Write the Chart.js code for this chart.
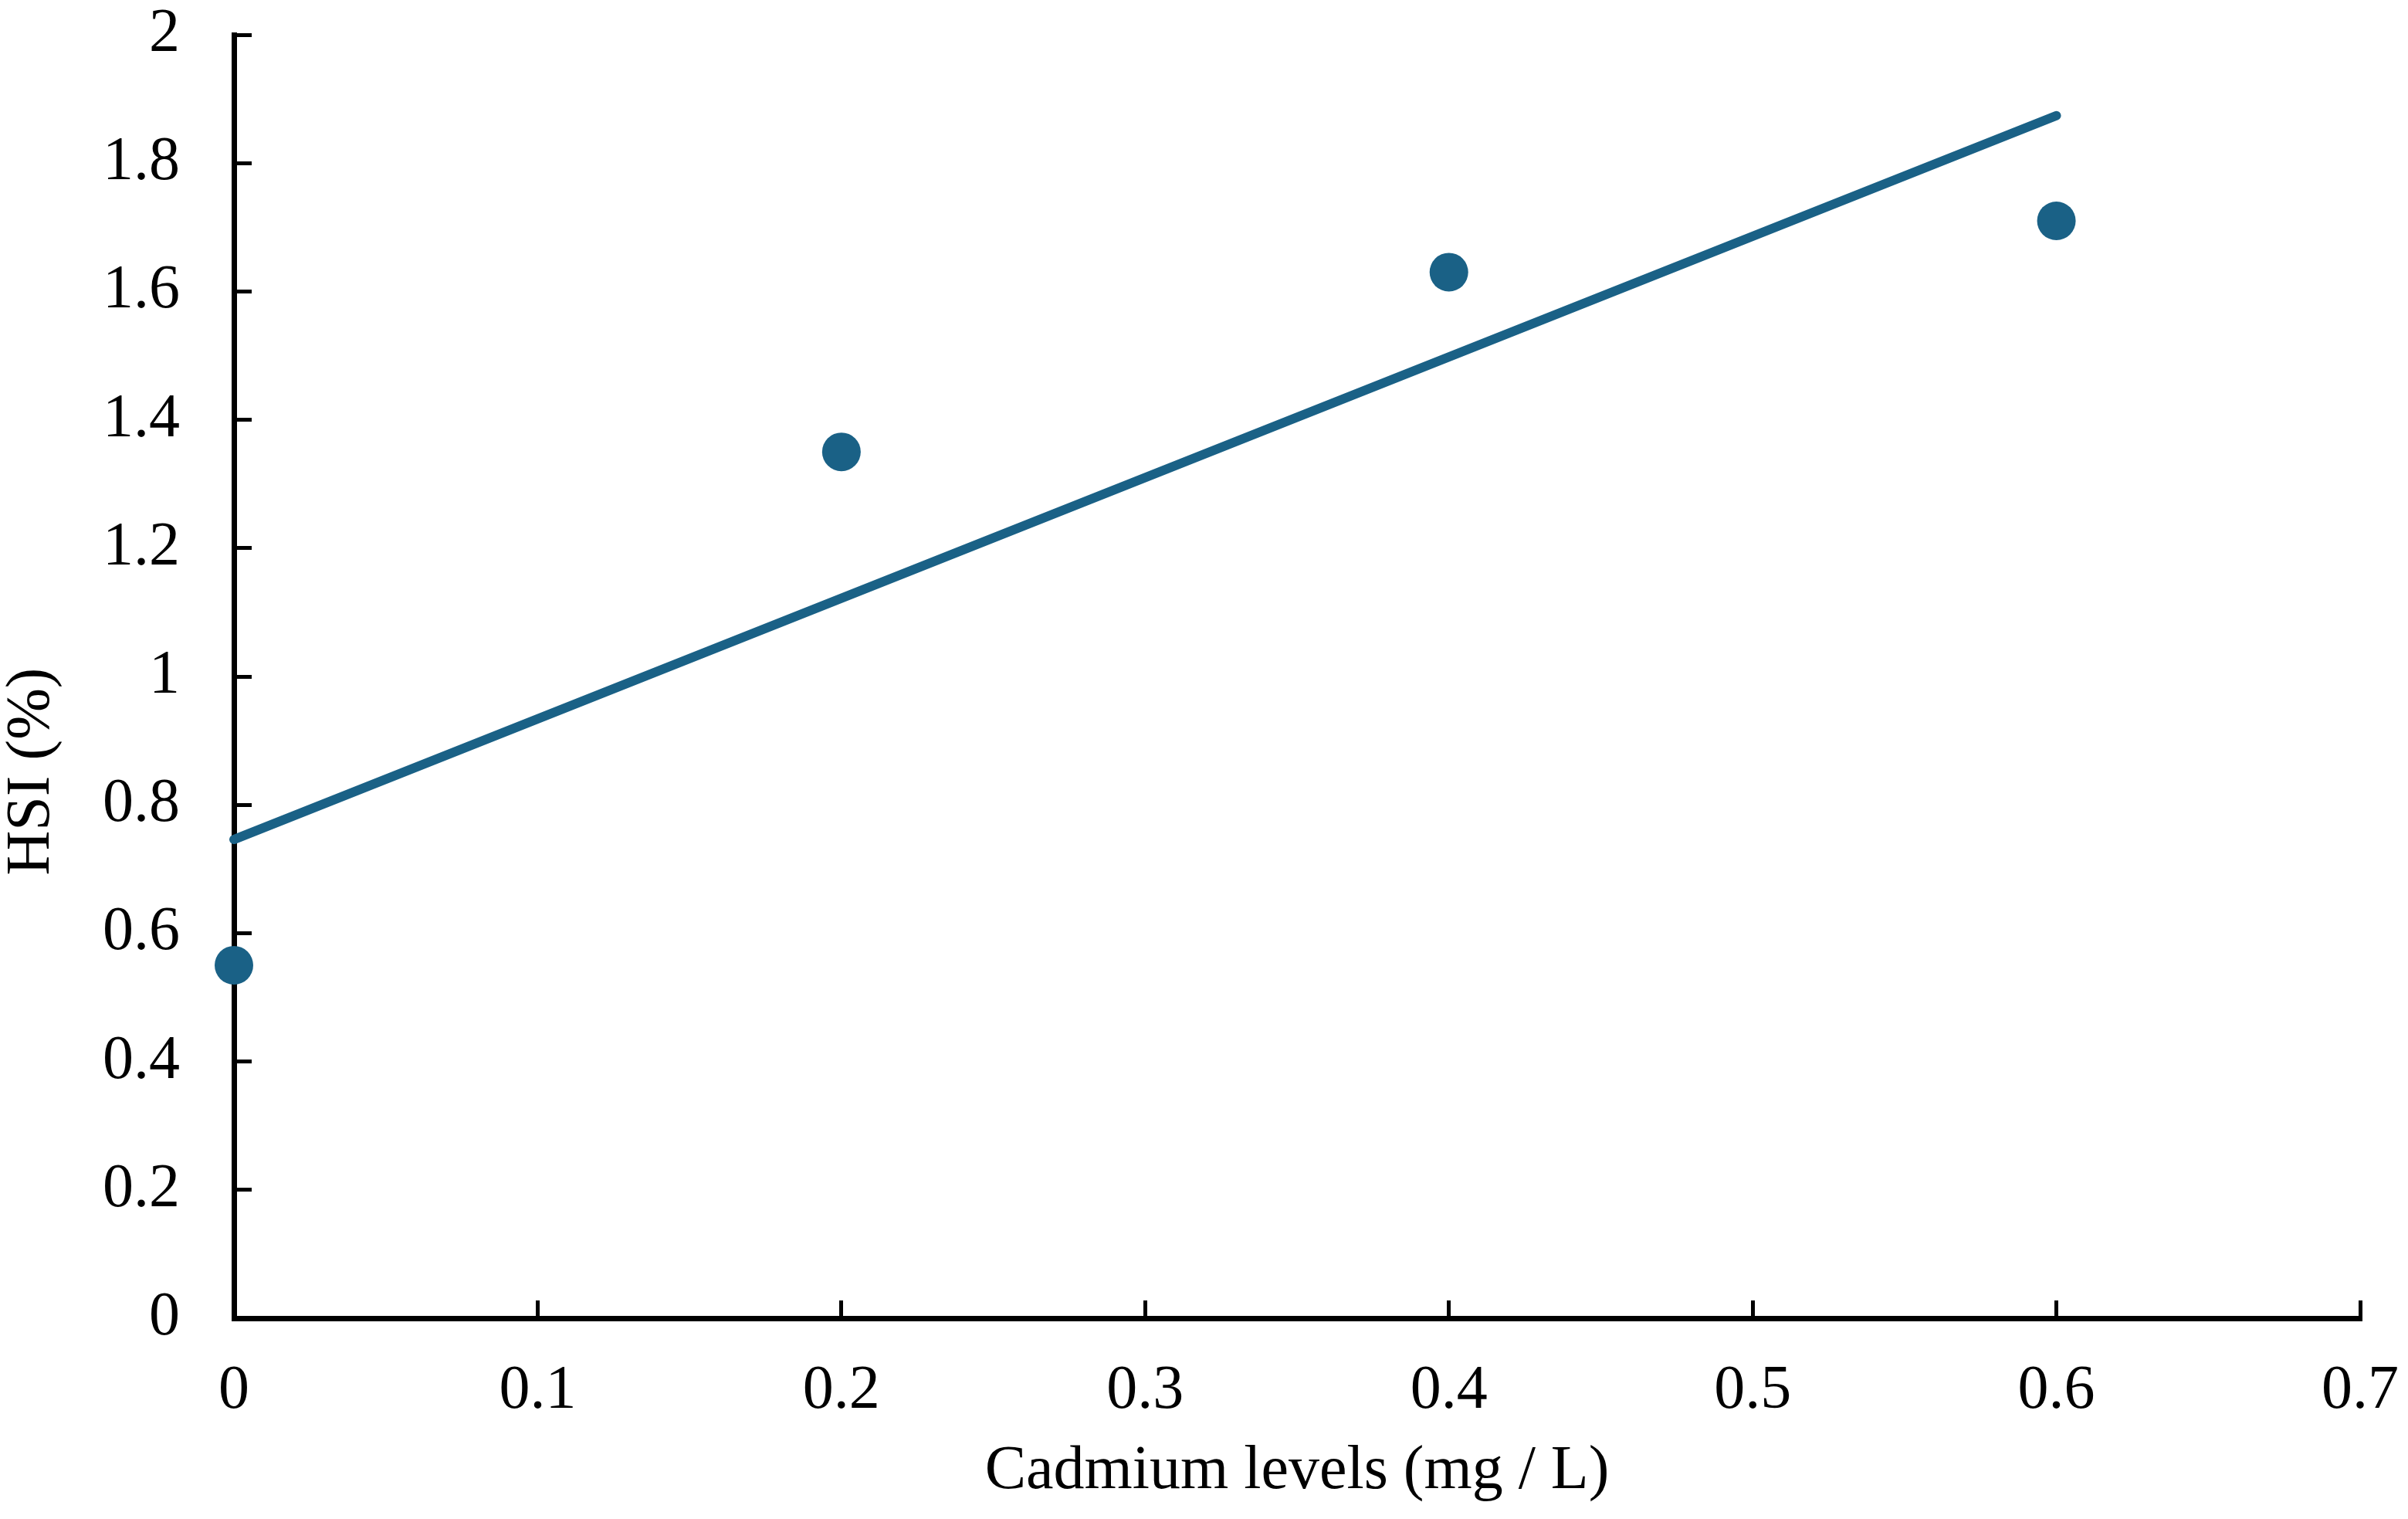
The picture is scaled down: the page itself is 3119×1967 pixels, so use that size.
<!DOCTYPE html>
<html>
<head>
<meta charset="utf-8">
<script src="https://cdn.jsdelivr.net/npm/chart.js@4"></script>
<style>
html,body{margin:0;padding:0;background:#fff;}
canvas{display:block;}
</style>
</head>
<body>
<canvas id="c" width="3119" height="1967"></canvas>
<script>
// Data
const cadmiumLevels = [0, 0.2, 0.4, 0.6];
const hsiValues = [0.55, 1.35, 1.63, 1.71];
const trendX = [0, 0.6];
const trendY = [0.746, 1.874];
const xTickValues = [0, 0.1, 0.2, 0.3, 0.4, 0.5, 0.6, 0.7];
const yTickValues = [0, 0.2, 0.4, 0.6, 0.8, 1, 1.2, 1.4, 1.6, 1.8, 2];
const xTitle = 'Cadmium levels (mg / L)';
const yTitle = 'HSI (%)';

const color = '#1a6186';
const font = 'Liberation Serif';
const fontSize = 80;

// Draws the rotated y-axis title (placed slightly below the axis centre, as in the reference)
const yTitlePlugin = {
  id: 'yTitlePlugin',
  afterDraw(chart) {
    const ctx = chart.ctx;
    const area = chart.chartArea;
    ctx.save();
    ctx.translate(42, (area.top + area.bottom) / 2 + 123);
    ctx.rotate(-Math.PI / 2);
    ctx.font = fontSize + 'px "' + font + '"';
    ctx.fillStyle = '#000';
    ctx.textAlign = 'center';
    ctx.textBaseline = 'middle';
    ctx.fillText(yTitle, 0, 0);
    ctx.restore();
  }
};

new Chart(document.getElementById('c'), {
  type: 'scatter',
  data: {
    datasets: [
      {
        label: 'HSI',
        data: cadmiumLevels.map((x, i) => ({x, y: hsiValues[i]})),
        backgroundColor: color,
        borderColor: color,
        pointRadius: 25,
        pointHoverRadius: 25,
        pointBorderWidth: 0,
        showLine: false,
        clip: false
      },
      {
        label: 'Linear',
        type: 'line',
        data: trendX.map((x, i) => ({x, y: trendY[i]})),
        borderColor: color,
        borderWidth: 12,
        borderCapStyle: 'round',
        pointRadius: 0,
        fill: false,
        clip: false
      }
    ]
  },
  plugins: [yTitlePlugin],
  options: {
    responsive: false,
    devicePixelRatio: 1,
    animation: false,
    events: [],
    layout: { padding: 0 },
    plugins: { legend: { display: false }, tooltip: { enabled: false } },
    scales: {
      x: {
        type: 'linear',
        min: 0, max: 0.7,
        afterBuildTicks: s => { s.ticks = xTickValues.map(v => ({value: v})); },
        afterFit: s => { s.height = 260; s.paddingLeft = 0; s.paddingRight = 62; },
        border: { display: true, color: '#000', width: 7 },
        grid: { display: true, drawOnChartArea: false, drawTicks: true, tickLength: -23, color: '#000', lineWidth: 5 },
        ticks: { color: '#000', font: { family: font, size: fontSize }, padding: 70, maxRotation: 0, autoSkip: false, callback: v => String(v) },
        title: { display: true, text: xTitle, color: '#000', font: { family: font, size: fontSize }, padding: { top: 0, bottom: 13 } }
      },
      y: {
        type: 'linear',
        min: 0, max: 2,
        afterBuildTicks: s => { s.ticks = yTickValues.map(v => ({value: v})); },
        afterFit: s => { s.width = 303; s.paddingTop = 45; s.paddingBottom = 0; },
        border: { display: true, color: '#000', width: 7 },
        grid: { display: true, drawOnChartArea: false, drawTicks: true, tickLength: -23, color: '#000', lineWidth: 5 },
        ticks: { color: '#000', font: { family: font, size: fontSize }, padding: 93, autoSkip: false, callback: v => String(v) },
        title: { display: false, text: yTitle }
      }
    }
  }
});
</script>
</body>
</html>
